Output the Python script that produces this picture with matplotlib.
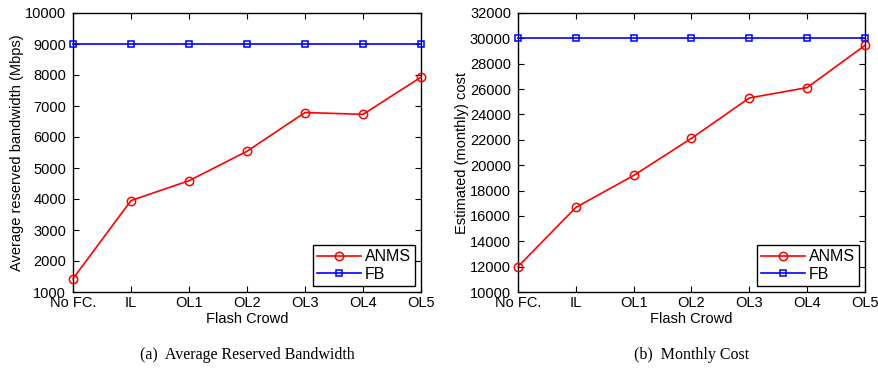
import matplotlib
matplotlib.use('agg')
import matplotlib.pyplot as plt

categories = ["No FC.", "IL", "OL1", "OL2", "OL3", "OL4", "OL5"]

# (a) average reserved bandwidth (Mbps)
bw_anms = [1430, 3950, 4590, 5540, 6790, 6730, 7930]
bw_fb = [9000, 9000, 9000, 9000, 9000, 9000, 9000]

# (b) estimated monthly cost
cost_anms = [12000, 16670, 19190, 22120, 25300, 26120, 29450]
cost_fb = [30000, 30000, 30000, 30000, 30000, 30000, 30000]

plt.rcParams['font.family'] = ['Liberation Sans', 'DejaVu Sans']
plt.rcParams['font.size'] = 10.5

fig = plt.figure(figsize=(8.79, 3.72), dpi=100)
ax1 = fig.add_axes([73 / 879, 1 - 292 / 372, 348 / 879, 279 / 372])
ax2 = fig.add_axes([518 / 879, 1 - 292 / 372, 347 / 879, 279 / 372])


def draw(ax, anms, fb, ylim, ystep, ylabel, caption):
    x = list(range(len(categories)))
    ax.plot(x, anms, color='red', marker='o', markersize=6, mfc='none',
            mew=1.1, lw=1.2, label='ANMS', clip_on=False, zorder=3)
    ax.plot(x, fb, color='blue', marker='s', markersize=4.5, mfc='none',
            mew=1.1, lw=1.2, label='FB', clip_on=False, zorder=3)
    ax.set_xlim(0, len(categories) - 1)
    ax.set_ylim(*ylim)
    ax.set_xticks(x)
    ax.set_xticklabels(categories)
    ax.set_yticks(range(ylim[0], ylim[1] + 1, ystep))
    ax.tick_params(direction='in', top=True, right=True, length=4)
    ax.tick_params(axis='x', pad=3)
    ax.tick_params(axis='y', pad=5)
    ax.set_xlabel('Flash Crowd', labelpad=1)
    ax.set_ylabel(ylabel, labelpad=1)
    for s in ax.spines.values():
        s.set_linewidth(1)
    leg = ax.legend(loc='lower right', fancybox=False, edgecolor='black',
                    framealpha=1, borderaxespad=0.4, handlelength=2.8,
                    borderpad=0.25, labelspacing=0.15, handletextpad=0.2,
                    fontsize=11.5)
    leg.get_frame().set_linewidth(1)
    ax.text(0.5, -0.225, caption, transform=ax.transAxes, ha='center',
            va='center', family='Liberation Serif', fontsize=11.5)


draw(ax1, bw_anms, bw_fb, (1000, 10000), 1000,
     'Average reserved bandwidth (Mbps)', '(a)  Average Reserved Bandwidth')
draw(ax2, cost_anms, cost_fb, (10000, 32000), 2000,
     'Estimated (monthly) cost', '(b)  Monthly Cost')

fig.savefig('out.png', dpi=100)
